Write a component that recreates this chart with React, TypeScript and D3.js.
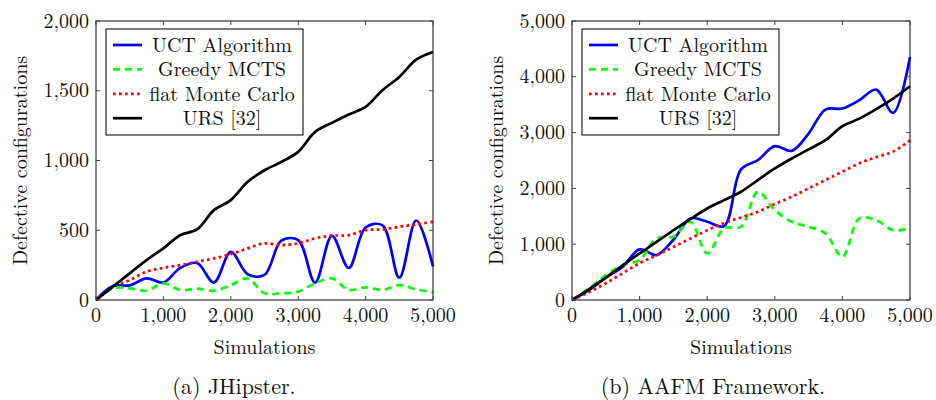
import React from "react";
import * as d3 from "d3";

// simulation steps shared by every series
const sims = [0, 250, 500, 750, 1000, 1250, 1500, 1750, 2000, 2250, 2500, 2750, 3000, 3250, 3500, 3750, 4000, 4250, 4500, 4750, 5000];

// (a) JHipster
const jhUct = [0, 100, 105, 155, 125, 230, 265, 125, 345, 185, 180, 425, 430, 125, 460, 230, 520, 535, 160, 570, 240];
const jhGreedy = [0, 84, 84, 67, 119, 72, 81, 67, 107, 155, 48, 48, 60, 119, 155, 72, 91, 72, 107, 76, 55];
const jhFlat = [0, 95, 143, 203, 231, 250, 274, 298, 329, 370, 406, 394, 406, 442, 461, 465, 501, 506, 525, 542, 561];
const jhUrs = [0, 95, 191, 286, 370, 465, 506, 644, 716, 847, 930, 990, 1062, 1205, 1270, 1330, 1384, 1504, 1599, 1723, 1778];

// (b) AAFM Framework
const afUct = [0, 179, 400, 597, 907, 805, 1080, 1462, 1402, 1325, 2340, 2506, 2757, 2673, 2983, 3413, 3431, 3580, 3771, 3353, 4356];
const afGreedy = [0, 209, 447, 626, 716, 1104, 1134, 1402, 835, 1283, 1313, 1939, 1611, 1402, 1313, 1193, 776, 1462, 1432, 1253, 1283];
const afFlat = [0, 140, 300, 480, 660, 800, 950, 1100, 1250, 1380, 1480, 1580, 1720, 1850, 2000, 2150, 2300, 2450, 2560, 2660, 2860];
const afUrs = [0, 190, 400, 620, 835, 1040, 1250, 1450, 1640, 1790, 1940, 2150, 2357, 2536, 2700, 2864, 3115, 3250, 3420, 3610, 3830];

const xTicks = [0, 1000, 2000, 3000, 4000, 5000];
const jhYTicks = [0, 500, 1000, 1500, 2000];
const afYTicks = [0, 1000, 2000, 3000, 4000, 5000];

const seriesNames = ["UCT Algorithm", "Greedy MCTS", "flat Monte Carlo", "URS [32]"];
const styles = [
  { stroke: "#0000ff", dash: undefined, w: 2.7 },
  { stroke: "#00ff00", dash: "7 5", w: 2.7 },
  { stroke: "#ff0000", dash: "2.7 3.3", w: 2.7 },
  { stroke: "#000000", dash: undefined, w: 2.7 },
];

const font = "Latin Modern Roman, Liberation Serif, serif";
const fmt = d3.format(",");

type PanelProps = {
  left: number;
  right: number;
  yMax: number;
  yTicks: number[];
  series: number[][];
  labelX: number;
  caption: string;
  captionX: number;
};

const Panel = ({ left, right, yMax, yTicks, series, labelX, caption, captionX }: PanelProps) => {
  const top = 21;
  const bottom = 300;
  const x = d3.scaleLinear().domain([0, 5000]).range([left, right]);
  const y = d3.scaleLinear().domain([0, yMax]).range([bottom, top]);
  const line = d3
    .line<number>()
    .x((_, i) => x(sims[i]))
    .y((d) => y(d))
    .curve(d3.curveCatmullRom.alpha(0.5));

  const lgX = left + 10;
  const lgY = 29;
  const lgW = 197;
  const lgH = 106;
  const clipId = `clip-${left}`;

  return (
    <g fontFamily={font} fill="#111">
      <defs>
        <clipPath id={clipId}>
          <rect x={left} y={top - 2} width={right - left + 2} height={bottom - top + 4} />
        </clipPath>
      </defs>
      {/* lines */}
      <g clipPath={`url(#${clipId})`}>
        {series.map((s, i) => (
          <path
            key={i}
            d={line(s) || ""}
            fill="none"
            stroke={styles[i].stroke}
            strokeWidth={styles[i].w}
            strokeDasharray={styles[i].dash}
            strokeLinejoin="round"
          />
        ))}
      </g>
      {/* frame + ticks */}
      <rect x={left} y={top} width={right - left} height={bottom - top} fill="none" stroke="#222" strokeWidth={1.1} />
      {xTicks.map((t) => (
        <g key={`x${t}`}>
          <line x1={x(t)} x2={x(t)} y1={bottom} y2={bottom - 4} stroke="#444" />
          <line x1={x(t)} x2={x(t)} y1={top} y2={top + 4} stroke="#444" />
          <text x={x(t)} y={322} textAnchor="middle" fontSize={20}>
            {fmt(t)}
          </text>
        </g>
      ))}
      {yTicks.map((t) => (
        <g key={`y${t}`}>
          <line x1={left} x2={left + 4} y1={y(t)} y2={y(t)} stroke="#444" />
          <line x1={right} x2={right - 4} y1={y(t)} y2={y(t)} stroke="#444" />
          <text x={left - 7} y={y(t) + 6.5} textAnchor="end" fontSize={20}>
            {fmt(t)}
          </text>
        </g>
      ))}
      <text x={(left + right) / 2} y={354} textAnchor="middle" fontSize={20}>
        Simulations
      </text>
      <text
        transform={`translate(${labelX},${(top + bottom) / 2}) rotate(-90)`}
        textAnchor="middle"
        dominantBaseline="central"
        fontSize={20}
      >
        Defective configurations
      </text>
      <text x={captionX} y={394} textAnchor="middle" fontSize={22}>
        {caption}
      </text>
      {/* legend */}
      <rect x={lgX} y={lgY} width={lgW} height={lgH} fill="white" stroke="#111" strokeWidth={1.1} />
      {seriesNames.map((n, i) => {
        const ry = lgY + 16 + i * 24.4;
        return (
          <g key={n}>
            <line
              x1={lgX + 7}
              x2={lgX + 36}
              y1={ry}
              y2={ry}
              stroke={styles[i].stroke}
              strokeWidth={styles[i].w}
              strokeDasharray={styles[i].dash}
            />
            <text x={lgX + 116} y={ry + 7} textAnchor="middle" fontSize={20}>
              {n}
            </text>
          </g>
        );
      })}
    </g>
  );
};

export default function App() {
  return (
    <svg width={936} height={400} style={{ position: "absolute", left: 0, top: 0, background: "white" }}>
      <Panel
        left={96}
        right={433}
        yMax={2000}
        yTicks={jhYTicks}
        series={[jhUct, jhGreedy, jhFlat, jhUrs]}
        labelX={18}
        caption="(a) JHipster."
        captionX={234}
      />
      <Panel
        left={572}
        right={910}
        yMax={5000}
        yTicks={afYTicks}
        series={[afUct, afGreedy, afFlat, afUrs]}
        labelX={494}
        caption="(b) AAFM Framework."
        captionX={713}
      />
    </svg>
  );
}
